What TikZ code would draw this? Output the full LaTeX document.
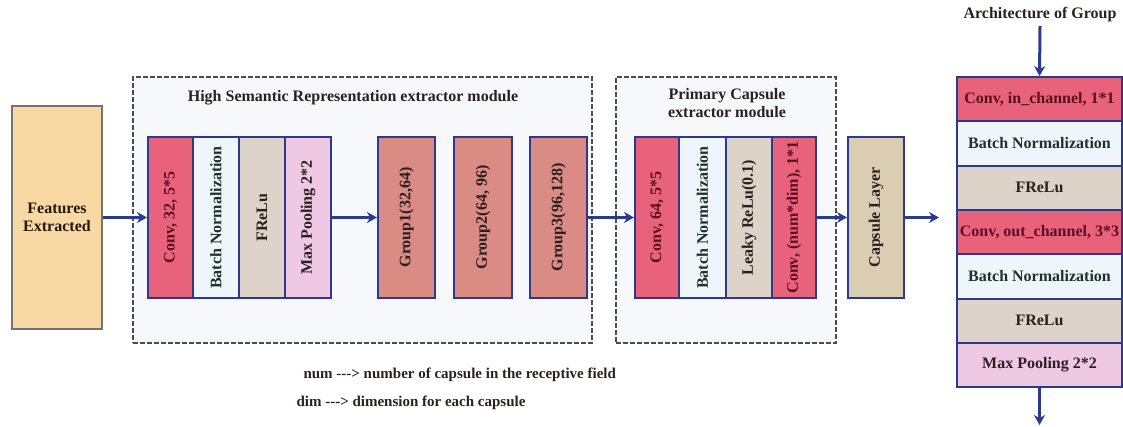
\documentclass[tikz,border=0pt]{standalone}
\usepackage{fontspec}
\setmainfont{Liberation Serif}
\usetikzlibrary{arrows.meta}

\definecolor{navy}{HTML}{2B3A8C}
\definecolor{convred}{HTML}{E8627C}
\definecolor{bnblue}{HTML}{EEF6FB}
\definecolor{frelugray}{HTML}{DDD3C9}
\definecolor{poolpink}{HTML}{EFC9E4}
\definecolor{grouprose}{HTML}{D98B84}
\definecolor{capsuletan}{HTML}{DACDB2}
\definecolor{featorange}{HTML}{F9D9A3}
\definecolor{modulebg}{HTML}{F6F8FC}
\definecolor{convtext}{HTML}{5A0F1F}
\definecolor{bntext}{HTML}{1C3326}
\definecolor{plaintext}{HTML}{2A2020}

\begin{document}
\begin{tikzpicture}[
	x=1pt, y=-1pt,
	every node/.style={font=\fontsize{16}{18}\selectfont\bfseries, text=plaintext},
	vblock/.style={draw=navy, line width=2pt, rotate=90, inner sep=0pt, minimum width=161pt},
	hblock/.style={draw=navy, line width=2pt, inner sep=0pt, minimum width=165pt, minimum height=44.3pt},
	module/.style={draw=black!70, dash pattern=on 5pt off 2pt, line width=1.8pt, fill=modulebg, inner sep=0pt},
	flow/.style={draw=navy, line width=3pt, -{Stealth[length=10pt, width=11pt]}}
]
\useasboundingbox (0,0) rectangle (1123,427);

\node[module, minimum width=459pt, minimum height=266pt] (hsr) at (362.5,210) {};
\node[module, minimum width=220pt, minimum height=266pt] (pce) at (726,210) {};
\node (hsrtitle) at (353,98) {High Semantic Representation extractor module};
\node[align=center] (pcetitle) at (727,103) {Primary Capsule\\extractor module};

\node[draw=black!55, line width=1.8pt, fill=featorange, minimum width=90pt, minimum height=223pt,
	align=center, text=black!80!brown] (feat) at (57,217.5) {Features\\Extracted};

\node[vblock, fill=convred, minimum height=45pt, text=convtext] (conv1) at (170.5,217.5) {Conv, 32, 5*5};
\node[vblock, fill=bnblue, minimum height=46pt, text=bntext] (bn1) at (216,217.5) {Batch Normalization};
\node[vblock, fill=frelugray, minimum height=46pt] (frelu1) at (262,217.5) {FReLu};
\node[vblock, fill=poolpink, minimum height=46pt] (pool1) at (308,217.5) {Max Pooling 2*2};

\node[vblock, fill=grouprose, minimum height=57pt] (group1) at (406.5,217.5) {Group1(32,64)};
\node[vblock, fill=grouprose, minimum height=58pt] (group2) at (483,217.5) {Group2(64, 96)};
\node[vblock, fill=grouprose, minimum height=57pt] (group3) at (558.5,217.5) {Group3(96,128)};

\node[vblock, fill=convred, minimum height=44pt, text=convtext] (conv2) at (657,217.5) {Conv, 64, 5*5};
\node[vblock, fill=bnblue, minimum height=47pt, text=bntext] (bn2) at (702.5,217.5) {Batch Normalization};
\node[vblock, fill=frelugray, minimum height=46pt] (lrelu) at (749,217.5) {Leaky ReLu(0.1)};
\node[vblock, fill=convred, minimum height=44pt, text=convtext] (conv3) at (794,217.5) {Conv, (num*dim), 1*1};

\node[vblock, fill=capsuletan, minimum height=56pt] (caps) at (876,217.5) {Capsule Layer};
\coordinate (capsout) at (939,217.5);

\draw[flow] (feat.east) -- (conv1.north);
\draw[flow] (pool1.south) -- (group1.north);
\draw[flow] (group3.south) -- (conv2.north);
\draw[flow] (conv3.south) -- (caps.north);
\draw[flow] (caps.south) -- (capsout);

\node (grouptitle) at (1040,15) {Architecture of Group};
\node[hblock, fill=convred, text=convtext] (row1) at (1039.5,99.2) {Conv, in\_channel, 1*1};
\node[hblock, fill=bnblue, text=bntext] (row2) at (1039.5,143.5) {Batch Normalization};
\node[hblock, fill=frelugray] (row3) at (1039.5,187.8) {FReLu};
\node[hblock, fill=convred, text=convtext] (row4) at (1039.5,232.1) {Conv, out\_channel, 3*3};
\node[hblock, fill=bnblue, text=bntext] (row5) at (1039.5,276.4) {Batch Normalization};
\node[hblock, fill=frelugray] (row6) at (1039.5,320.7) {FReLu};
\node[hblock, fill=poolpink] (row7) at (1039.5,365) {Max Pooling 2*2};
\coordinate (groupout) at (1039.5,425);

\draw[flow] (grouptitle.south) -- (row1.north);
\draw[flow] (row7.south) -- (groupout);

\node[anchor=west, font=\fontsize{15}{17}\selectfont\bfseries] (numnote) at (300,375) {num -{}-{}-> number of capsule in the receptive field};
\node[anchor=west, font=\fontsize{15}{17}\selectfont\bfseries] (dimnote) at (293,403) {dim -{}-{}-> dimension for each capsule};
\end{tikzpicture}
\end{document}
